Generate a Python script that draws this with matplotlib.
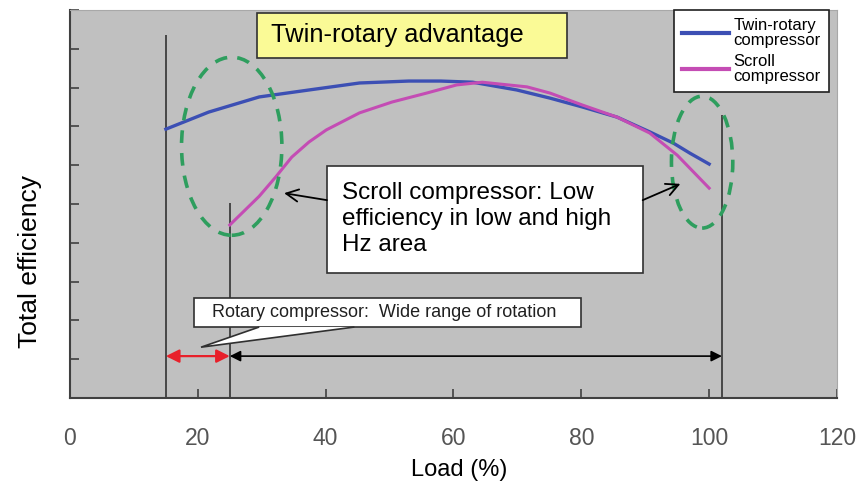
import matplotlib
matplotlib.use("Agg")
import matplotlib.pyplot as plt
import matplotlib.patches as patches
import numpy as np

plt.rcParams['font.family'] = ['Liberation Sans', 'DejaVu Sans']

# load (%) vs total efficiency (arbitrary units)
twin_load = [15, 21.7, 29.6, 37.4, 45.3, 53, 58, 63, 69.9, 75.1, 80.2, 85.6, 90.7, 94.4, 97, 100]
twin_eff = [6.93, 7.37, 7.76, 7.94, 8.12, 8.17, 8.17, 8.14, 7.94, 7.73, 7.50, 7.24, 6.86, 6.57, 6.31, 6.03]

scroll_load = [25, 29.6, 32.2, 34.7, 37.4, 40.1, 45.3, 50.4, 55.8, 60.5, 64.5, 71.5, 75.1, 80.2, 85.6, 90.7, 95, 100]
scroll_eff = [4.46, 5.2, 5.70, 6.21, 6.60, 6.91, 7.35, 7.63, 7.86, 8.07, 8.14, 8.02, 7.86, 7.55, 7.24, 6.83, 6.26, 5.41]

x_ticks = [0, 20, 40, 60, 80, 100, 120]
rotary_min, scroll_min, rotary_max = 15, 25, 102

fig = plt.figure(figsize=(8.61, 4.88), dpi=100)
ax = fig.add_axes([0.0813, 0.1844, 0.8908, 0.795])
ax.set_facecolor('#c0c0c0')

ax.plot(twin_load, twin_eff, color='#3c4fb4', lw=2.4, label='Twin-rotary\ncompressor', zorder=4)
ax.plot(scroll_load, scroll_eff, color='#c44cb4', lw=2.2, label='Scroll\ncompressor', zorder=4)

# range lines
ax.vlines(rotary_min, 0, 9.36, color='#333333', lw=1.2, zorder=2)
ax.vlines(scroll_min, 0, 5.03, color='#333333', lw=1.2, zorder=2)
ax.vlines(rotary_max, 0, 7.29, color='#333333', lw=1.2, zorder=2)

ax.annotate('', xy=(rotary_min, 1.08), xytext=(scroll_min, 1.08),
            arrowprops=dict(arrowstyle='<|-|>', color='#e8202a', lw=1.6,
                            mutation_scale=20, shrinkA=0, shrinkB=0), zorder=3)
ax.annotate('', xy=(scroll_min, 1.08), xytext=(rotary_max, 1.08),
            arrowprops=dict(arrowstyle='<|-|>', color='black', lw=1.2,
                            mutation_scale=16, shrinkA=0, shrinkB=0), zorder=3)

# green dashed ellipses
for c, w, h in [((25.3, 6.49), 15.7, 4.59), ((98.9, 6.08), 9.6, 3.4)]:
    ax.add_patch(patches.Ellipse(c, w, h, fill=False, ec='#2e9e5e', lw=2.6,
                                 ls=(0, (3.5, 2.8)), zorder=5))

# yellow title box
ax.add_patch(patches.Rectangle((29.3, 8.76), 48.5, 1.16, fc='#fafa96', ec='#303030',
                               lw=1.2, zorder=6))
ax.text(51.2, 9.36, 'Twin-rotary advantage', fontsize=18.3, ha='center', va='center', zorder=7)

# scroll callout
ax.add_patch(patches.Rectangle((40.2, 3.22), 49.4, 2.76, fc='white', ec='#303030',
                               lw=1.2, zorder=6))
ax.text(42.6, 4.62, 'Scroll compressor: Low\nefficiency in low and high\nHz area',
        fontsize=17.5, ha='left', va='center', linespacing=1.25, zorder=7)
ax.annotate('', xy=(33.5, 5.28), xytext=(40.2, 5.10),
            arrowprops=dict(arrowstyle='->', color='black', lw=1.3,
                            mutation_scale=22, shrinkA=0, shrinkB=0), zorder=7)
ax.annotate('', xy=(95.5, 5.52), xytext=(89.6, 5.10),
            arrowprops=dict(arrowstyle='->', color='black', lw=1.3,
                            mutation_scale=22, shrinkA=0, shrinkB=0), zorder=7)

# rotary callout
ax.add_patch(patches.Rectangle((19.4, 1.83), 60.5, 0.75, fc='white', ec='#303030',
                               lw=1.2, zorder=6))
ax.add_patch(patches.Polygon([(29.6, 1.83), (20.5, 1.31), (44.5, 1.83)], closed=False,
                             fc='white', ec='#303030', lw=1.2, zorder=6.5))
ax.text(22.2, 2.2, 'Rotary compressor:  Wide range of rotation', fontsize=13,
        ha='left', va='center', color='#202020', zorder=7)

ax.set_xlim(0, 120)
ax.set_ylim(0, 10)
ax.set_xticks(x_ticks)
ax.set_yticks(np.arange(0, 11))
ax.set_yticklabels([])
ax.tick_params(direction='in', length=6.5, width=1.2, color='#404040')
ax.tick_params(axis='x', pad=21, labelsize=16.5, labelcolor='#555555')

for s in ['left', 'bottom']:
    ax.spines[s].set_color('#404040')
    ax.spines[s].set_linewidth(1.5)
for s in ['top', 'right']:
    ax.spines[s].set_color('#a8a8a8')
    ax.spines[s].set_linewidth(0.8)

ax.set_xlabel('Load (%)', fontsize=17)
ax.xaxis.set_label_coords(0.508, -0.158)
ax.set_ylabel('Total efficiency', fontsize=19)
ax.yaxis.set_label_coords(-0.037, 0.353)

leg = ax.legend(loc='upper right', bbox_to_anchor=(0.99, 1.0), borderaxespad=0,
                fontsize=12, frameon=True, fancybox=False, handlelength=2.8,
                handletextpad=0.3, labelspacing=0.4, borderpad=0.5)
leg.get_frame().set_edgecolor('#202020')
leg.get_frame().set_linewidth(1.2)
leg.get_frame().set_alpha(1)
leg.set_zorder(8)
for t in leg.get_texts():
    t.set_linespacing(0.95)
for ln in leg.get_lines():
    ln.set_linewidth(3)

fig.savefig('out.png', dpi=100)
